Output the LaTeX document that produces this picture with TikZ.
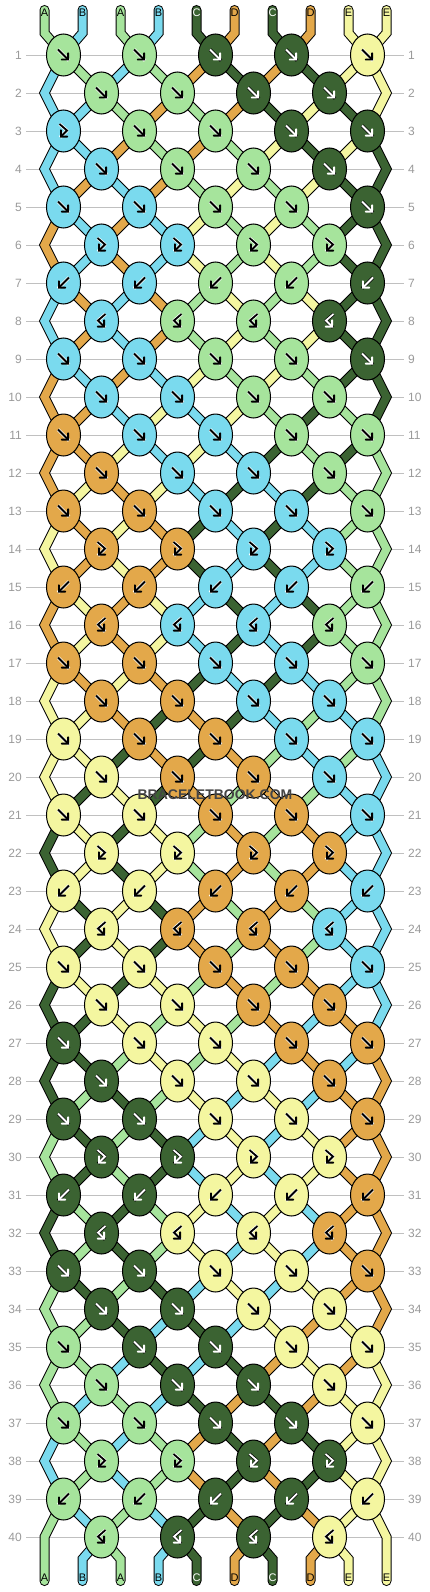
\documentclass[tikz,border=0pt]{standalone}
\usepackage{fontspec}
\setmainfont{Liberation Sans}
\usetikzlibrary{arrows,shapes.geometric}

\definecolor{strA}{HTML}{A6E49C}
\definecolor{strB}{HTML}{7ADAEE}
\definecolor{strC}{HTML}{3B6332}
\definecolor{strD}{HTML}{E3A84A}
\definecolor{strE}{HTML}{F4F6A0}
\definecolor{rowgray}{HTML}{9A9A9A}
\definecolor{linegray}{HTML}{C0C0C0}
\definecolor{markgray}{HTML}{444444}

\tikzset{
  knot/.style={ellipse,draw=black,line width=1pt,minimum width=34pt,minimum height=42pt,inner sep=0pt},
  thread/.style={draw=black,line width=1pt,double=str#1,double distance=8pt,line cap=round,line join=miter},
  rownum/.style={text=rowgray,inner sep=0pt,font=\fontsize{12}{12}\selectfont},
  strlabel/.style={inner sep=0pt,font=\fontsize{11}{11}\selectfont}
}

\def\kpathf{(-5.5,-5.5) -- (5.5,5.5)}
\def\kpathb{(5.5,-5.5) -- (-5.5,5.5)}
\def\kpathfb{(-4,-7) -- (3.5,-0.5) -- (-3.5,6.5)}
\def\kpathbf{(4,-7) -- (-3.5,-0.5) -- (3.5,6.5)}

\newcommand\knotarrow[4]{%
  \expandafter\let\expandafter\kpath\csname kpath#2\endcsname
  \draw[shift={(#1)},draw=#4,line width=3.2pt,line join=round] \kpath;
  \draw[shift={(#1)},draw=#3,line width=1.8pt,->,>=angle 90] \kpath;}

\begin{document}
\begin{tikzpicture}[x=1pt,y=-1pt]
\useasboundingbox[fill=white] (0,0) rectangle (430,1592);

\foreach \r in {1,...,40}{
  \pgfmathsetmacro\yy{17+38*\r}
  \node[rownum,anchor=east] (rl-\r) at (22,\yy) {\r};
  \node[rownum,anchor=west] (rr-\r) at (408,\yy) {\r};
  \draw[linegray,line width=0.8pt,shorten <=4pt,shorten >=4pt] (rl-\r.east) -- (rr-\r.west);
}

\foreach \i in {0,...,9}{
  \pgfmathsetmacro\xs{44.5+38*\i}
  \coordinate (t-\i) at (\xs,10);
  \coordinate (tb-\i) at (\xs,33);
  \coordinate (bb-\i) at (\xs,1559);
  \coordinate (b-\i) at (\xs,1581);
}
\foreach \r in {1,...,40}{
  \pgfmathsetmacro\yy{17+38*\r}
  \pgfmathtruncatemacro\isodd{mod(\r,2)}
  \foreach \i in {0,...,9}{
    \pgfmathsetmacro\xx{\isodd==1 ? 63.5+76*int(\i/2) : (\i==0 ? 44.5 : (\i==9 ? 386.5 : 101.5+76*int((\i-1)/2)))}
    \coordinate (s-\r-\i) at (\xx,\yy);
  }
}

\foreach \r/\slots in {
  0/{A,B,A,B,C,D,C,D,E,E}, 1/{B,A,B,A,D,C,D,C,E,E}, 2/{B,B,A,D,A,D,C,E,C,E},
  3/{B,B,D,A,D,A,E,C,E,C}, 4/{B,D,B,D,A,E,A,E,C,C}, 5/{D,B,D,B,E,A,E,A,C,C},
  6/{D,B,D,B,E,A,E,A,C,C}, 7/{B,D,B,D,A,E,A,E,C,C}, 8/{B,D,B,D,A,E,A,E,C,C},
  9/{D,B,D,B,E,A,E,A,C,C}, 10/{D,D,B,E,B,E,A,C,A,C}, 11/{D,D,E,B,E,B,C,A,C,A},
  12/{D,E,D,E,B,C,B,C,A,A}, 13/{E,D,E,D,C,B,C,B,A,A}, 14/{E,D,E,D,C,B,C,B,A,A},
  15/{D,E,D,E,B,C,B,C,A,A}, 16/{D,E,D,E,B,C,B,C,A,A}, 17/{E,D,E,D,C,B,C,B,A,A},
  18/{E,E,D,C,D,C,B,A,B,A}, 19/{E,E,C,D,C,D,A,B,A,B}, 20/{E,C,E,C,D,A,D,A,B,B},
  21/{C,E,C,E,A,D,A,D,B,B}, 22/{C,E,C,E,A,D,A,D,B,B}, 23/{E,C,E,C,D,A,D,A,B,B},
  24/{E,C,E,C,D,A,D,A,B,B}, 25/{C,E,C,E,A,D,A,D,B,B}, 26/{C,C,E,A,E,A,D,B,D,B},
  27/{C,C,A,E,A,E,B,D,B,D}, 28/{C,A,C,A,E,B,E,B,D,D}, 29/{A,C,A,C,B,E,B,E,D,D},
  30/{A,C,A,C,B,E,B,E,D,D}, 31/{C,A,C,A,E,B,E,B,D,D}, 32/{C,A,C,A,E,B,E,B,D,D},
  33/{A,C,A,C,B,E,B,E,D,D}, 34/{A,A,C,B,C,B,E,D,E,D}, 35/{A,A,B,C,B,C,D,E,D,E},
  36/{A,B,A,B,C,D,C,D,E,E}, 37/{B,A,B,A,D,C,D,C,E,E}, 38/{B,A,B,A,D,C,D,C,E,E},
  39/{A,B,A,B,C,D,C,D,E,E}, 40/{A,B,A,B,C,D,C,D,E,E}}{
  \pgfmathtruncatemacro\rn{\r+1}
  \pgfmathtruncatemacro\rp{\r-1}
  \pgfmathtruncatemacro\iseven{1-mod(\r,2)}
  \foreach \col [count=\i from 0] in \slots {
    \pgfmathtruncatemacro\isedge{(\i==0)||(\i==9)}
    \ifnum\r=0
      \draw[thread=\col] (t-\i) -- (tb-\i) -- (s-1-\i);
    \else\ifnum\r=40
      \ifnum\isedge=1
        \draw[thread=\col] (s-39-\i) -- (s-40-\i) -- (b-\i);
      \else
        \draw[thread=\col] (s-40-\i) -- (bb-\i) -- (b-\i);
      \fi
    \else
      \ifnum\isedge=0
        \draw[thread=\col] (s-\r-\i) -- (s-\rn-\i);
      \else\ifnum\iseven=1
        \draw[thread=\col] (s-\rp-\i) -- (s-\r-\i) -- (s-\rn-\i);
      \fi\fi
    \fi\fi
  }
}

\foreach \col [count=\i from 0] in {A,B,A,B,C,D,C,D,E,E}{
  \pgfmathsetmacro\xs{44.5+38*\i}
  \if\col C\def\tcol{white}\else\def\tcol{black}\fi
  \node[strlabel,text=\tcol] (lt-\i) at (\xs,13) {\col};
  \node[strlabel,text=\tcol] (lb-\i) at (\xs,1578) {\col};
}

\foreach \r/\kt/\cols in {
  1/f/{A,A,C,C,E}, 2/f/{A,A,C,C}, 3/f/{B,A,A,C,C}, 4/f/{B,A,A,C},
  5/f/{B,B,A,A,C}, 6/fb/{B,B,A,A}, 7/b/{B,B,A,A,C}, 8/bf/{B,A,A,C},
  9/f/{B,B,A,A,C}, 10/f/{B,B,A,A}, 11/f/{D,B,B,A,A}, 12/f/{D,B,B,A},
  13/f/{D,D,B,B,A}, 14/fb/{D,D,B,B}, 15/b/{D,D,B,B,A}, 16/bf/{D,B,B,A},
  17/f/{D,D,B,B,A}, 18/f/{D,D,B,B}, 19/f/{E,D,D,B,B}, 20/f/{E,D,D,B},
  21/f/{E,E,D,D,B}, 22/fb/{E,E,D,D}, 23/b/{E,E,D,D,B}, 24/bf/{E,D,D,B},
  25/f/{E,E,D,D,B}, 26/f/{E,E,D,D}, 27/f/{C,E,E,D,D}, 28/f/{C,E,E,D},
  29/f/{C,C,E,E,D}, 30/fb/{C,C,E,E}, 31/b/{C,C,E,E,D}, 32/bf/{C,E,E,D},
  33/f/{C,C,E,E,D}, 34/f/{C,C,E,E}, 35/f/{A,C,C,E,E}, 36/f/{A,C,C,E},
  37/f/{A,A,C,C,E}, 38/fb/{A,A,C,C}, 39/b/{A,A,C,C,E}, 40/bf/{A,C,C,E}}{
  \pgfmathtruncatemacro\isodd{mod(\r,2)}
  \foreach \col [count=\j from 0] in \cols {
    \pgfmathtruncatemacro\slot{\isodd==1 ? 2*\j : 2*\j+1}
    \node[knot,fill=str\col] (k-\r-\j) at (s-\r-\slot) {};
    \edef\ktype{\kt}
    \ifnum\r=3 \ifnum\j=0 \def\ktype{fb}\fi\fi
    \if\col C\knotarrow{k-\r-\j}{\ktype}{white}{black}\else\knotarrow{k-\r-\j}{\ktype}{black}{white}\fi
  }
}

\node[text=markgray,font=\bfseries\fontsize{14}{14}\selectfont] (mark) at (215,795) {BRACELETBOOK.COM};
\end{tikzpicture}
\end{document}
